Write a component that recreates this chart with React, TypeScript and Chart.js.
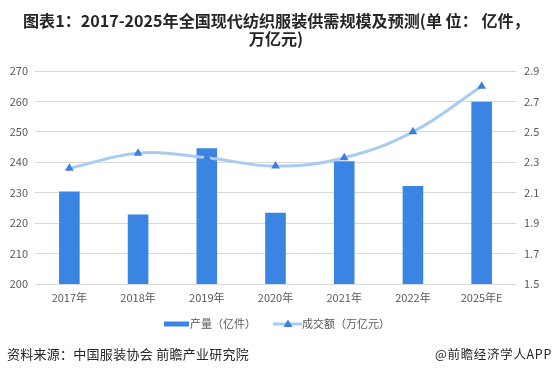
import React, { useEffect, useRef } from "react";
import { Chart, registerables } from "chart.js";

Chart.register(...registerables);

const categories = ["2017年", "2018年", "2019年", "2020年", "2021年", "2022年", "2025年E"];
const outputValues = [230.4, 222.8, 244.6, 223.4, 240.3, 232.2, 259.9];
const turnoverValues = [2.26, 2.36, 2.33, 2.275, 2.33, 2.5, 2.8];
const leftAxis = { min: 200, max: 270, step: 10 };
const rightAxis = { min: 1.5, max: 2.9, step: 0.2 };
const titleLines = ["图表1：2017-2025年全国现代纺织服装供需规模及预测(单 位： 亿件，", "万亿元)"];
const seriesNames = ["产量（亿件）", "成交额（万亿元）"];
const sourceText = "资料来源：中国服装协会 前瞻产业研究院";
const brandText = "@前瞻经济学人APP";

const BAR_COLOR = "#3a84e4";
const LINE_COLOR = "#a9cbf2";
const POINT_COLOR = "#3a7fdc";
const TEXT_COLOR = "#595959";
const FONT = "'Noto Sans CJK SC', 'Noto Sans', sans-serif";

function fitSize(ctx: CanvasRenderingContext2D, text: string, weight: string, base: number, target: number) {
  ctx.font = `${weight} ${base}px ${FONT}`;
  const w = ctx.measureText(text).width;
  const size = (base * target) / w;
  ctx.font = `${weight} ${size}px ${FONT}`;
}

function fitSpacing(ctx: CanvasRenderingContext2D, text: string, target: number) {
  (ctx as any).letterSpacing = "0px";
  const w = ctx.measureText(text).width;
  const n = Array.from(text).length;
  (ctx as any).letterSpacing = `${(target - w) / n}px`;
}

const decorPlugin = {
  id: "decor",
  afterDraw(chart: any) {
    const ctx = chart.ctx as CanvasRenderingContext2D;
    ctx.save();
    // title
    ctx.fillStyle = "#262626";
    fitSize(ctx, titleLines[0], "bold", 16, 507);
    ctx.textAlign = "left";
    ctx.textBaseline = "middle";
    ctx.fillText(titleLines[0], 23, 21);
    ctx.textAlign = "center";
    ctx.fillText(titleLines[1], 276, 39);

    // legend
    ctx.textAlign = "left";
    ctx.fillStyle = BAR_COLOR;
    ctx.fillRect(164, 321.5, 25, 5);
    ctx.fillStyle = TEXT_COLOR;
    ctx.font = `11px ${FONT}`;
    ctx.fillText(seriesNames[0], 190, 324);
    ctx.strokeStyle = LINE_COLOR;
    ctx.lineWidth = 3;
    ctx.beginPath();
    ctx.moveTo(273, 324);
    ctx.lineTo(302, 324);
    ctx.stroke();
    ctx.fillStyle = POINT_COLOR;
    ctx.beginPath();
    ctx.moveTo(288, 319.5);
    ctx.lineTo(292.5, 327);
    ctx.lineTo(283.5, 327);
    ctx.closePath();
    ctx.fill();
    ctx.fillStyle = TEXT_COLOR;
    ctx.fillText(seriesNames[1], 302, 324);

    // footer
    ctx.fillStyle = "#262626";
    ctx.font = `13px ${FONT}`;
    ctx.textAlign = "left";
    fitSpacing(ctx, sourceText, 242);
    ctx.fillText(sourceText, 7, 354);
    ctx.font = `12.5px ${FONT}`;
    fitSpacing(ctx, brandText, 117);
    ctx.fillText(brandText, 435, 354);
    ctx.restore();
  },
};

export default function App() {
  const canvasRef = useRef<HTMLCanvasElement | null>(null);

  useEffect(() => {
    document.body.style.margin = "0";
    const canvas = canvasRef.current;
    if (!canvas) return;
    const chart = new Chart(canvas, {
      type: "bar",
      data: {
        labels: categories,
        datasets: [
          {
            type: "line",
            label: seriesNames[1],
            data: turnoverValues,
            yAxisID: "y1",
            borderColor: LINE_COLOR,
            borderWidth: 3,
            tension: 0.4,
            pointStyle: "triangle",
            pointRadius: 5,
            pointBackgroundColor: POINT_COLOR,
            pointBorderColor: POINT_COLOR,
            pointBorderWidth: 0,
            order: 0,
          } as any,
          {
            type: "bar",
            label: seriesNames[0],
            data: outputValues,
            yAxisID: "y",
            backgroundColor: BAR_COLOR,
            barPercentage: 0.6,
            categoryPercentage: 0.5,
            order: 1,
          },
        ],
      },
      options: {
        responsive: false,
        animation: false,
        layout: { padding: { top: 71, left: 0, right: 0, bottom: 0 } },
        plugins: { legend: { display: false }, tooltip: { enabled: false }, title: { display: false } },
        scales: {
          x: {
            grid: { display: false, drawTicks: false },
            border: { display: false },
            ticks: { color: TEXT_COLOR, font: { size: 11, family: FONT }, padding: 7, maxRotation: 0 },
            afterFit(scale: any) {
              scale.height = 90;
            },
          },
          y: {
            position: "left",
            min: leftAxis.min,
            max: leftAxis.max,
            ticks: { stepSize: leftAxis.step, color: TEXT_COLOR, font: { size: 11, family: FONT }, padding: 7 },
            grid: { color: "#d9d9d9", drawTicks: false },
            border: { display: false },
            afterFit(scale: any) {
              scale.width = 35;
            },
          },
          y1: {
            position: "right",
            min: rightAxis.min,
            max: rightAxis.max,
            ticks: {
              stepSize: rightAxis.step,
              color: TEXT_COLOR,
              font: { size: 11, family: FONT },
              padding: 8,
              callback: (v: any) => Number(v).toFixed(1),
            },
            grid: { display: false, drawTicks: false },
            border: { display: false },
            afterFit(scale: any) {
              scale.width = 38;
            },
          },
        },
      },
      plugins: [decorPlugin],
    });
    return () => chart.destroy();
  }, []);

  return <canvas ref={canvasRef} width={554} height={374} style={{ display: "block" }} />;
}
